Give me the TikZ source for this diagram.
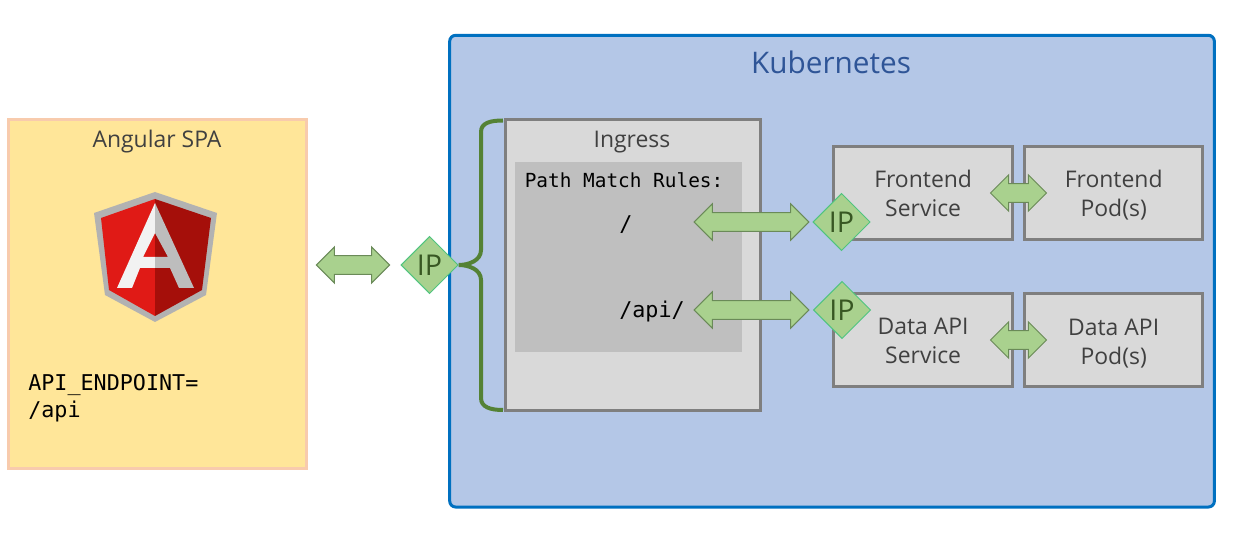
\documentclass[tikz,border=0pt]{standalone}
\usepackage{fontspec}
\setmainfont{Open Sans}
\setmonofont{DejaVu Sans Mono}
\usetikzlibrary{shapes.geometric,shapes.arrows}
\definecolor{k8sblue}{HTML}{0070C0}
\definecolor{k8sfill}{HTML}{B4C7E7}
\definecolor{k8stext}{HTML}{2F5597}
\definecolor{boxgray}{HTML}{7F7F7F}
\definecolor{boxfill}{HTML}{D9D9D9}
\definecolor{rulefill}{HTML}{BFBFBF}
\definecolor{labeltext}{HTML}{404040}
\definecolor{ipfill}{HTML}{A9D18E}
\definecolor{ipedge}{HTML}{4FC47F}
\definecolor{iptext}{HTML}{385723}
\definecolor{arrowedge}{HTML}{6A8A58}
\definecolor{braceline}{HTML}{548235}
\tikzset{
    boxnode/.style={draw=boxgray,fill=boxfill,line width=2.25pt,rectangle,anchor=north west,inner sep=0pt,outer sep=0pt,align=center,text=labeltext,font=\fontsize{17.2}{21.75}\selectfont},
    ipnode/.style={diamond,aspect=1,draw=ipedge,fill=ipfill,line width=0.75pt,minimum size=43pt,inner sep=0pt,text=iptext,font=\fontsize{21.5}{25}\selectfont},
    linknode/.style={double arrow,draw=arrowedge,fill=ipfill,line width=0.75pt,inner xsep=0pt,inner ysep=6.6pt,double arrow head extend=6.6pt,minimum width=26.4pt},
    titlenode/.style={text=labeltext,font=\fontsize{17.2}{20}\selectfont},
    codenode/.style={anchor=west,inner sep=0pt,font=\ttfamily\fontsize{16.3}{20.25}\selectfont,align=left},
}
\begin{document}
\begin{tikzpicture}[x=0.75pt,y=0.75pt,yscale=-1]
    \useasboundingbox (0,0) rectangle (1235,559);

    % Angular side
    \node [draw={rgb,255:red,248;green,203;blue,173},fill={rgb,255:red,255;green,230;blue,153},line width=2.25pt,rectangle,anchor=north west,outer sep=0pt,minimum width=223.5pt,minimum height=261.6pt] (spa) at (8.5,120) {};
    \node [titlenode] (spaTitle) at (157,142) {Angular SPA};
    \node [codenode] (spaEndpoint) at (28,398.5) {API\_ENDPOINT=\\/api};

    % Logo
    \fill [color={rgb,255:red,178;green,178;blue,178}] (155,192) -- (217,213) -- (206,295) -- (155,322) -- (105,295) -- (94,213) -- cycle;
    \fill [color={rgb,255:red,224;green,26;blue,22}] (155,199) -- (101,218) -- (109,290) -- (155,316) -- cycle;
    \fill [color={rgb,255:red,165;green,15;blue,10}] (155,199) -- (211,218) -- (202,290) -- (155,316) -- cycle;
    \fill [color={rgb,255:red,242;green,242;blue,242}] (155,203) -- (117,288) -- (132,288) -- (140,268) -- (155,268) -- (155,257) -- (143,257) -- (155,233) -- cycle;
    \fill [color={rgb,255:red,189;green,189;blue,189}] (155,203) -- (194,288) -- (179,288) -- (170,268) -- (155,268) -- (155,257) -- (168,257) -- (155,233) -- cycle;

    % Kubernetes side
    \node [draw=k8sblue,fill=k8sfill,line width=2.25pt,rectangle,rounded corners=4.5pt,anchor=north west,outer sep=0pt,minimum width=573.5pt,minimum height=353.8pt] (cluster) at (449.7,35.3) {};
    \node [text=k8stext,font=\fontsize{22.3}{26}\selectfont] (clusterTitle) at (831,62.5) {Kubernetes};

    \node [boxnode,minimum width=191.25pt,minimum height=218.25pt] (ingress) at (505.5,119.7) {};
    \node [titlenode] (ingressTitle) at (632,142) {Ingress};
    \node [fill=rulefill,rectangle,anchor=north west,inner sep=0pt,minimum width=170.25pt,minimum height=142.5pt] (rules) at (515,162) {};
    \node [codenode,font=\ttfamily\fontsize{14.55}{18}\selectfont,text=black] (rulesTitle) at (524.5,180) {Path Match Rules:};
    \node [codenode,anchor=center] (rootPath) at (626,225) {/};
    \node [codenode,anchor=center] (apiPath) at (652,312) {/api/};

    \node [boxnode,minimum width=134pt,minimum height=69.5pt] (frontSvc) at (833.8,146.5) {\rule{0pt}{0.8em}Frontend\\Service};
    \node [boxnode,minimum width=133.3pt,minimum height=69.5pt] (frontPod) at (1024.8,146.5) {\rule{0pt}{1em}Frontend\\Pod(s)};
    \node [boxnode,minimum width=134pt,minimum height=69.5pt] (dataSvc) at (833.8,294) {\rule{0pt}{0.8em}Data API\\Service};
    \node [boxnode,minimum width=133.3pt,minimum height=69.5pt] (dataPod) at (1024.8,294) {\rule{0pt}{1em}Data API\\Pod(s)};

    % IP diamonds
    \node [ipnode] (ipSpa) at (429.5,265) {IP};
    \node [ipnode] (ipFront) at (841.5,222) {IP};
    \node [ipnode] (ipData) at (842,310) {IP};

    % Brace
    \coordinate (braceTop) at (503,120.5);
    \coordinate (braceBottom) at (503,410);
    \draw [braceline,line width=3pt] (braceTop) .. controls (490,120.5) and (481,123) .. (481,132) -- (481,250) .. controls (481,261) and (468,265) .. (ipSpa.east) .. controls (468,265) and (481,269) .. (481,280) -- (481,398) .. controls (481,407) and (490,410) .. (braceBottom);

    % Double arrows
    \node [linknode,minimum height=55pt] (linkSpa) at (353,265) {};
    \node [linknode,minimum height=86pt] (linkRoot) at (751.5,222) {};
    \node [linknode,minimum height=86pt] (linkApi) at (751.5,310) {};
    \node [linknode,minimum height=42pt] (linkFront) at (1018.5,193) {};
    \node [linknode,minimum height=42pt] (linkData) at (1018.5,340) {};
\end{tikzpicture}
\end{document}
